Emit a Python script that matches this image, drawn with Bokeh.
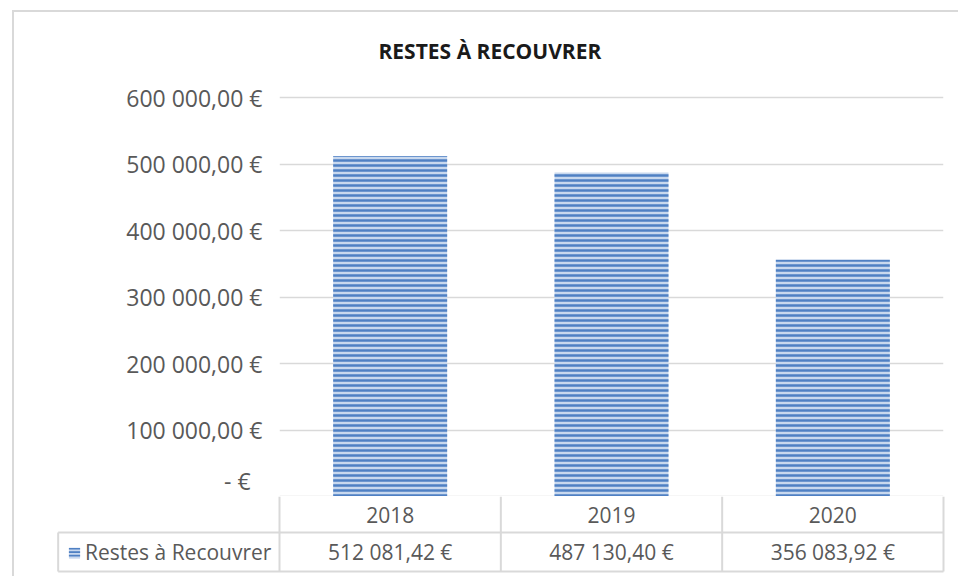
from bokeh.plotting import figure
from bokeh.layouts import column, row
from bokeh.models import (FactorRange, Range1d, FixedTicker, Legend, LegendItem,
                          ColumnDataSource)
from bokeh.core.properties import value
from bokeh.embed import file_html
from bokeh.resources import INLINE

# ---------------- data ----------------
title_text = "RESTES À RECOUVRER"
series_name = "Restes à Recouvrer"
years = ["2018", "2019", "2020"]
amounts = [512081.42, 487130.40, 356083.92]
tick_values = [0, 100000, 200000, 300000, 400000, 500000, 600000]


def fr_euro(v):
    if v == 0:
        return "-   €"
    return f"{v:,.2f}".replace(",", " ").replace(".", ",") + " €"


amount_labels = [fr_euro(v) for v in amounts]
tick_labels = [fr_euro(v) for v in tick_values]

# ---------------- style / layout ----------------
FONT = "Open Sans"
TXT = "#595959"
GRID = "#d9d9d9"
BORDER = "2px solid #d9d9d9"
UPP = 600000 / 399.0          # value units per pixel
W = 946
FR_L, FR_R = 265, 17          # chart frame margins (px)
COL = (W - FR_L - FR_R) / 3.0  # table column width (px)

bar_style = dict(fill_color="#c8d8ee", line_color=None,
                 hatch_pattern="horizontal_line", hatch_color="#4f80c3",
                 hatch_scale=5, hatch_weight=2.5)

# ---------------- chart ----------------
p = figure(width=W, height=486,
           x_range=FactorRange(factors=years, range_padding=0),
           y_range=Range1d(-1 * UPP, 416 * UPP),
           output_backend="svg", toolbar_location=None,
           min_border_left=FR_L, min_border_right=FR_R,
           min_border_top=68, min_border_bottom=1,
           margin=(10, 0, 0, 12),
           styles={"border-left": BORDER, "border-top": BORDER})
p.outline_line_color = None
p.border_fill_color = "white"

p.title.text = title_text
p.title.align = "left"
p.title.offset = 99
p.title.standoff = 32
p.title.text_font = FONT
p.title.text_font_size = "21px"
p.title.text_font_style = "bold"
p.title.text_color = "#1a1a1a"

p.xaxis.visible = False
p.xgrid.grid_line_color = None
p.yaxis.ticker = FixedTicker(ticks=tick_values)
p.yaxis.major_label_overrides = dict(zip(tick_values, tick_labels))
p.yaxis.axis_line_color = None
p.yaxis.major_tick_line_color = None
p.yaxis.minor_tick_line_color = None
p.yaxis.major_tick_out = 0
p.yaxis.major_tick_in = 0
p.yaxis.major_label_standoff = 17
p.yaxis.major_label_text_font = FONT
p.yaxis.major_label_text_font_size = "23px"
p.yaxis.major_label_text_color = TXT
p.ygrid.ticker = FixedTicker(ticks=tick_values)
p.ygrid.grid_line_color = GRID
p.ygrid.grid_line_width = 1.5

src = ColumnDataSource(dict(year=years, amount=amounts))
p.vbar(x="year", top="amount", width=0.515, source=src, **bar_style)

# ---------------- data table ----------------
n = len(years)
t = figure(width=W, height=80,
           x_range=Range1d(-FR_L / COL, n + FR_R / COL),
           y_range=Range1d(0, 80),
           output_backend="svg", toolbar_location=None,
           min_border_left=0, min_border_right=0, min_border_top=0, min_border_bottom=0,
           styles={"border-left": BORDER})
t.outline_line_color = None
t.axis.visible = False
t.grid.grid_line_color = None
t.border_fill_color = "white"

ROW_TOP, ROW_DIV, ROW_BOT = 80, 44, 5
xs = [i + 0.5 for i in range(n)]
edges = list(range(n + 1))
# horizontal rules (second row includes the key cell)
t.segment(x0=[-1, -1], y0=[ROW_DIV, ROW_BOT], x1=[n, n], y1=[ROW_DIV, ROW_BOT],
          line_color=GRID, line_width=2)
# vertical rules
t.segment(x0=edges, y0=[ROW_TOP] * (n + 1), x1=edges, y1=[ROW_BOT] * (n + 1),
          line_color=GRID, line_width=2)
t.segment(x0=[-1], y0=[ROW_DIV], x1=[-1], y1=[ROW_BOT], line_color=GRID, line_width=2)

t.text(x=xs, y=[(ROW_TOP + ROW_DIV) / 2] * n, text=years, text_align="center",
       text_baseline="middle", text_font=value(FONT), text_font_size="21px", text_color=TXT)
t.text(x=xs, y=[(ROW_DIV + ROW_BOT) / 2] * n, text=amount_labels, text_align="center",
       text_baseline="middle", text_font=value(FONT), text_font_size="21px", text_color=TXT)

# legend key of the table (zero-height proxy bars carry the series style)
key_style = dict(bar_style, hatch_scale=3.5, hatch_weight=2)
key = t.vbar(x=xs, bottom=ROW_BOT, top=ROW_BOT, width=0.5, **key_style)
legend = Legend(items=[LegendItem(label=series_name, renderers=[key], index=0)],
                location=(48, ROW_BOT), padding=5, margin=0, glyph_width=14, glyph_height=13,
                label_standoff=4, label_text_font=FONT, label_text_font_size="21px",
                label_text_color=TXT, border_line_alpha=0, background_fill_alpha=0)
t.add_layout(legend)

layout = column(p, row(t, spacing=0, margin=(0, 0, 0, 12)), spacing=0)
open("out.html", "w").write(file_html(layout, INLINE))
